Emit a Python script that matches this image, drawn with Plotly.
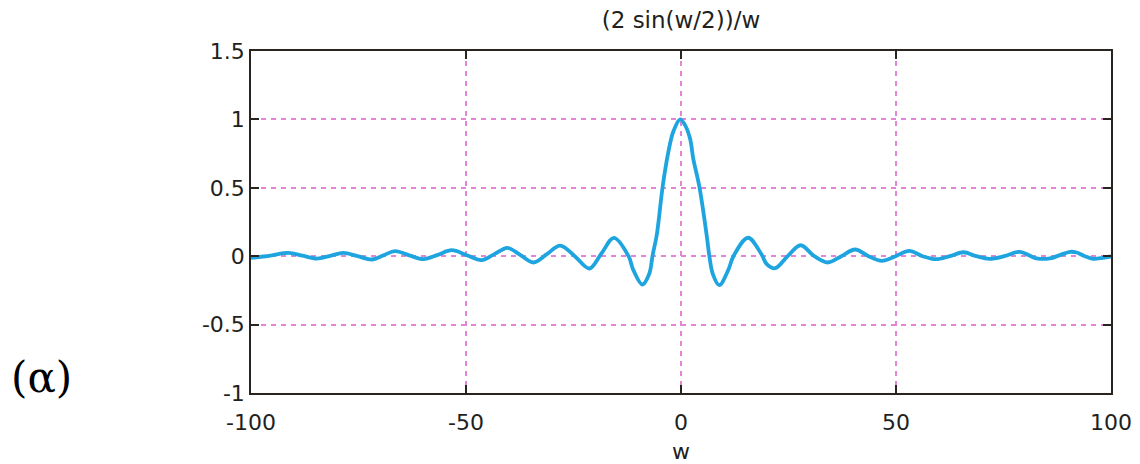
import plotly.graph_objects as go

# Values (w, value)
w_vals = [-100, -95.5, -91.3, -88.0, -84.7, -81.6, -78.5, -75.2, -71.9, -69.2,
          -66.5, -63.2, -59.9, -56.6, -53.3, -49.8, -46.4, -43.4, -40.5, -39.4,
          -37.4, -34.3, -31.2, -28.1, -24.7, -21.3, -18.5, -15.6, -12.2, -11.1,
          -9.0, -7.4, -6.6, -5.65, -4.26, -2.95, -1.8, -0.2, 0.9, 2.1,
          2.87, 4.26, 5.97, 6.6, 7.4, 8.9, 11.0, 12.2, 15.6, 18.6,
          20.0, 21.9, 24.8, 27.8, 31.0, 34.1, 37.3, 40.5, 43.6, 46.7,
          49.9, 53.1, 56.2, 59.3, 62.5, 65.7, 68.7, 71.7, 75.2, 78.7,
          82.7, 85.8, 88.1, 90.5, 92.0, 93.9, 95.8, 98.1, 100.0]
y_vals = [-0.012, 0.005, 0.024, 0.004, -0.017, 0.003, 0.024, 0.0, -0.024, 0.006,
          0.037, 0.006, -0.022, 0.01, 0.044, 0.007, -0.029, 0.015, 0.061, 0.05,
          0.01, -0.046, 0.015, 0.078, 0.0, -0.09, 0.02, 0.134, 0.0, -0.10,
          -0.207, -0.13, 0.007, 0.153, 0.51, 0.76, 0.91, 1.0, 0.96, 0.86,
          0.71, 0.51, 0.153, 0.0, -0.13, -0.212, -0.10, 0.0, 0.135, 0.02,
          -0.06, -0.088, 0.0, 0.08, 0.0, -0.046, 0.0, 0.049, 0.0, -0.034,
          0.0, 0.039, 0.0, -0.022, 0.0, 0.029, 0.0, -0.019, 0.0, 0.032,
          -0.016, -0.016, 0.008, 0.032, 0.027, 0.0, -0.019, -0.012, -0.002]

x_ticks = [-100, -50, 0, 50, 100]
x_tick_text = ["-100", "-50", "0", "50", "100"]
y_ticks = [-1, -0.5, 0, 0.5, 1, 1.5]
y_tick_text = ["-1", "-0.5", "0", "0.5", "1", "1.5"]

title_text = "(2 sin(w/2))/w"
x_label = "w"
side_label = "(α)"

fig = go.Figure()
fig.add_trace(go.Scatter(
    x=w_vals, y=y_vals, mode="lines",
    line=dict(color="#1ea5e0", width=3.8, shape="spline", smoothing=1.0),
    showlegend=False, hoverinfo="skip",
))

axis_common = dict(
    showline=True, linecolor="#2a2420", linewidth=1.5, mirror="ticks",
    ticks="inside", ticklen=8, tickcolor="#2a2420", tickwidth=1.5,
    showgrid=True, gridcolor="#e384d6", gridwidth=2, griddash="5px,5px",
    zeroline=False, automargin=False,
    tickfont=dict(family="DejaVu Sans", size=22, color="#231f20"),
)

fig.update_layout(
    width=1140, height=464,
    margin=dict(l=251, r=29, t=51, b=71),
    paper_bgcolor="white", plot_bgcolor="white",
    title=dict(text=title_text, x=0.5, xanchor="center", xref="paper",
               y=1 - 20 / 464, yanchor="middle",
               font=dict(family="DejaVu Sans", size=23, color="#231f20")),
    xaxis=dict(range=[-100, 100], tickvals=x_ticks, ticktext=x_tick_text, **axis_common,
               ticklabelstandoff=9,
               title=dict(text=x_label, standoff=10,
                          font=dict(family="DejaVu Sans", size=22, color="#231f20"))),
    yaxis=dict(range=[-1, 1.5], tickvals=y_ticks, ticktext=y_tick_text, **axis_common),
)

fig.add_annotation(
    text=side_label, xref="paper", yref="paper",
    x=(41 - 251) / 860, y=(464 - 71 - 377) / 342,
    xanchor="center", yanchor="middle", showarrow=False,
    font=dict(family="DejaVu Serif", size=42, color="#000000"),
)

fig.write_html("out.html", config={"displayModeBar": False},
               post_script="document.body.style.margin='0';document.body.style.overflow='hidden';")
